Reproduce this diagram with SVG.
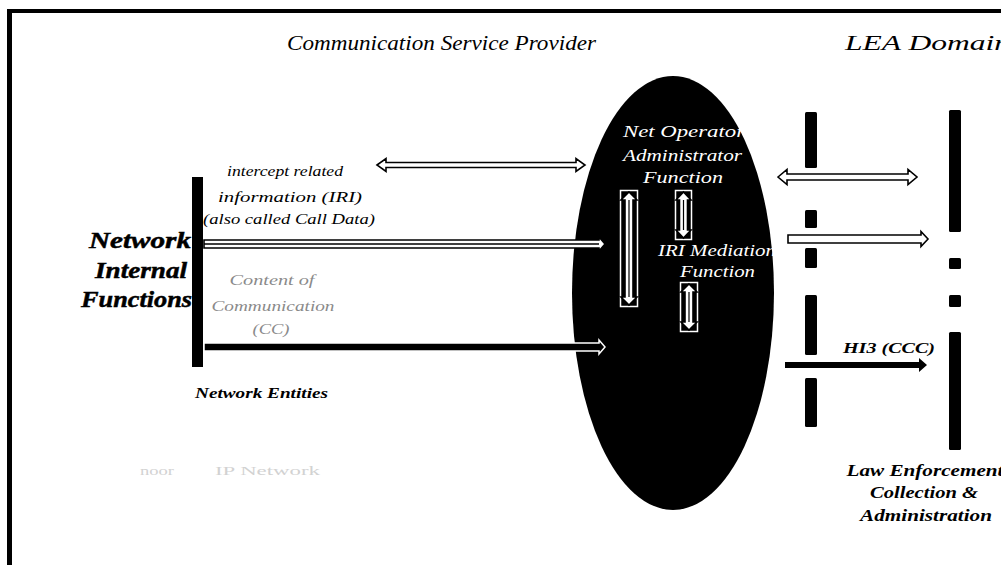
<svg xmlns="http://www.w3.org/2000/svg" width="1001" height="565" viewBox="0 0 1001 565">
  <style>
    .serif { font-family: "Liberation Serif", "DejaVu Serif", serif; }
    .it { font-style: italic; }
    .bi { font-style: italic; font-weight: bold; }
    .hollow { fill: #ffffff; stroke: #000000; stroke-width: 1.6; stroke-linejoin: miter; }
    .solid { fill: #000000; stroke: #ffffff; stroke-width: 1.5; }
    .bar { fill: #000000; }
    .wtxt { fill: #ffffff; }
    .gtxt { fill: #8a8a8a; }
    .faint { fill: #d2d2d2; }
  </style>

  <rect x="0" y="0" width="1001" height="565" fill="#ffffff"/>

  <!-- outer frame (top and left edges) -->
  <g id="frame">
    <line x1="7" y1="11" x2="1001" y2="11" stroke="#000" stroke-width="4"/>
    <line x1="9.5" y1="9" x2="9.5" y2="565" stroke="#000" stroke-width="5"/>
  </g>

  <!-- domain headings -->
  <g id="headings" class="serif it" font-size="21" fill="#000">
    <text x="287" y="50" textLength="309" lengthAdjust="spacingAndGlyphs">Communication Service Provider</text>
    <text x="845" y="50" textLength="165" lengthAdjust="spacingAndGlyphs">LEA Domain</text>
  </g>

  <!-- network internal functions: bar and labels -->
  <g id="network-internal">
    <rect class="bar" x="192" y="177" width="11" height="190"/>
    <g class="serif bi" font-size="24" text-anchor="end" fill="#000" stroke="#000" stroke-width="0.5">
      <text x="191" y="248" textLength="102" lengthAdjust="spacingAndGlyphs">Network</text>
      <text x="187" y="278" textLength="92" lengthAdjust="spacingAndGlyphs">Internal</text>
      <text x="192" y="307" textLength="111" lengthAdjust="spacingAndGlyphs">Functions</text>
    </g>
    <text class="serif bi" x="195" y="398" font-size="15" textLength="133" lengthAdjust="spacingAndGlyphs">Network Entities</text>
    <g class="serif faint" font-size="13">
      <text x="140" y="475" textLength="34" lengthAdjust="spacingAndGlyphs">noor</text>
      <text x="215" y="475" textLength="105" lengthAdjust="spacingAndGlyphs">IP Network</text>
    </g>
  </g>

  <!-- mediation ellipse with its internal functions -->
  <g id="csp-mediation">
    <ellipse cx="673" cy="293" rx="101" ry="217" fill="#000"/>
    <g class="serif it wtxt" font-size="16">
      <text x="623" y="137" textLength="122" lengthAdjust="spacingAndGlyphs">Net Operator</text>
      <text x="623" y="161" textLength="119" lengthAdjust="spacingAndGlyphs">Administrator</text>
      <text x="643" y="183" textLength="80" lengthAdjust="spacingAndGlyphs">Function</text>
      <text x="658" y="256" textLength="118" lengthAdjust="spacingAndGlyphs">IRI Mediation</text>
      <text x="680" y="277" textLength="75" lengthAdjust="spacingAndGlyphs">Function</text>
    </g>
  </g>

  <!-- handover boundary (dashed) -->
  <g id="handover-boundary">
    <rect class="bar" x="805" y="112" width="12" height="56" rx="1.5"/>
    <rect class="bar" x="805" y="210" width="12" height="18" rx="1.5"/>
    <rect class="bar" x="805" y="248" width="12" height="20" rx="1.5"/>
    <rect class="bar" x="805" y="295" width="12" height="60" rx="1.5"/>
    <rect class="bar" x="805" y="378" width="12" height="49" rx="1.5"/>
  </g>

  <!-- law enforcement collection -->
  <g id="lea-collection">
    <rect class="bar" x="949" y="110" width="12" height="122" rx="1.5"/>
    <rect class="bar" x="949" y="258" width="12" height="11" rx="1.5"/>
    <rect class="bar" x="949" y="295" width="12" height="12" rx="1.5"/>
    <rect class="bar" x="949" y="332" width="12" height="118" rx="1.5"/>
    <g class="serif bi" font-size="16" text-anchor="middle" fill="#000">
      <text x="925" y="476" textLength="157" lengthAdjust="spacingAndGlyphs">Law Enforcement</text>
      <text x="924" y="498" textLength="108" lengthAdjust="spacingAndGlyphs">Collection &amp;</text>
      <text x="926" y="521" textLength="132" lengthAdjust="spacingAndGlyphs">Administration</text>
    </g>
  </g>

  <!-- connectors -->
  <g id="connectors">
    <!-- admin link (double headed) -->
    <polygon class="hollow" points="377,165 386,158.5 386,162.5 576,162.5 576,158.5 585,165 576,171.5 576,167.5 386,167.5 386,171.5"/>
    <!-- IRI link -->
    <polygon class="hollow" points="204,240 599,240 599,237 605,244 599,251 599,248 204,248"/>
    <line x1="204" y1="244" x2="599" y2="244" stroke="#000" stroke-width="1.6"/>
    <!-- CC link -->
    <polygon class="solid" points="204,343 599,343 599,340 605,347 599,354 599,351 204,351"/>

    <!-- internal links inside the mediation function -->
    <g id="internal-links">
      <rect x="620.5" y="190.5" width="17" height="116" fill="#000" stroke="#fff" stroke-width="1.5"/>
      <polygon class="hollow" stroke-width="1.2" points="629,192 637,200 633,200 633,297 637,297 629,305 621,297 625,297 625,200 621,200"/>
      <line x1="629" y1="200" x2="629" y2="297" stroke="#000" stroke-width="1.2"/>

      <rect x="675.5" y="190.5" width="16" height="49" fill="#000" stroke="#fff" stroke-width="1.5"/>
      <polygon class="hollow" stroke-width="1.2" points="683.5,192 691,200 687.5,200 687.5,230 691,230 683.5,238 676,230 679.5,230 679.5,200 676,200"/>
      <line x1="683.5" y1="200" x2="683.5" y2="230" stroke="#000" stroke-width="1.2"/>

      <rect x="680.5" y="282.5" width="17" height="49" fill="#000" stroke="#fff" stroke-width="1.5"/>
      <polygon class="hollow" stroke-width="1.2" points="689,284 697,292 693,292 693,322 697,322 689,330 681,322 685,322 685,292 681,292"/>
      <line x1="689" y1="292" x2="689" y2="322" stroke="#000" stroke-width="1.2"/>
    </g>

    <!-- handover interfaces -->
    <polygon class="hollow" points="778,177 787,169.5 787,174 908,174 908,169.5 917,177 908,184.5 908,180 787,180 787,184.5"/>
    <polygon class="hollow" points="788,235 921,235 921,231.5 928,239 921,246.5 921,243 788,243"/>
    <polygon fill="#000" points="785,362 919,362 919,358 927,365 919,372 919,368 785,368"/>
  </g>

  <!-- connector labels -->
  <g id="connector-labels">
    <g class="serif it" font-size="15" text-anchor="middle" fill="#000">
      <text x="285" y="176" textLength="116" lengthAdjust="spacingAndGlyphs">intercept related</text>
      <text x="290" y="202" textLength="144" lengthAdjust="spacingAndGlyphs">information (IRI)</text>
      <text x="289" y="224" textLength="172" lengthAdjust="spacingAndGlyphs">(also called Call Data)</text>
    </g>
    <g class="serif it gtxt" font-size="14" text-anchor="middle">
      <text x="272" y="285" textLength="85" lengthAdjust="spacingAndGlyphs">Content of</text>
      <text x="273" y="311" textLength="123" lengthAdjust="spacingAndGlyphs">Communication</text>
      <text x="271" y="334" textLength="37" lengthAdjust="spacingAndGlyphs">(CC)</text>
    </g>
    <text class="serif bi" x="843" y="353" font-size="15" textLength="92" lengthAdjust="spacingAndGlyphs">HI3 (CCC)</text>
  </g>
</svg>
